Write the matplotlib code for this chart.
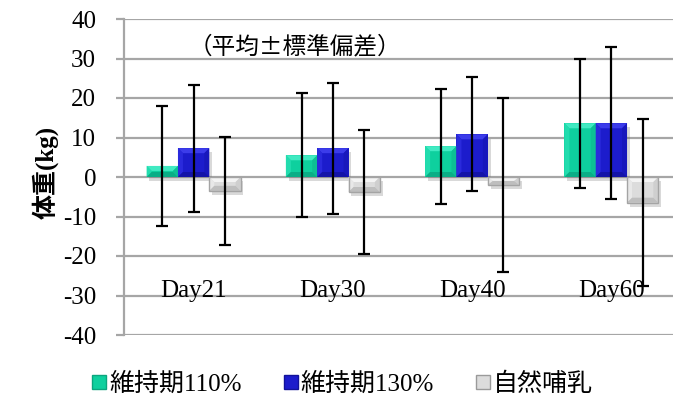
import matplotlib
matplotlib.use("Agg")
import matplotlib.pyplot as plt
import matplotlib.patheffects as pe
from matplotlib.lines import Line2D
from matplotlib.patches import Polygon
import numpy as np

categories = ["Day21", "Day30", "Day40", "Day60"]
series_names = ["維持期110%", "維持期130%", "自然哺乳"]
means_110 = [2.8, 5.5, 7.8, 13.6]
means_130 = [7.3, 7.3, 10.8, 13.6]
means_nat = [-3.5, -3.8, -2.0, -6.5]
sd_110 = [15.2, 15.7, 14.6, 16.4]
sd_130 = [16.1, 16.6, 14.4, 19.2]
sd_nat = [13.6, 15.8, 22.0, 21.1]
yticks = [-40, -30, -20, -10, 0, 10, 20, 30, 40]
note = "（平均±標準偏差）"
ylabel = "体重(kg)"

colors = ["#0ED09E", "#1C1CCC", "#DCDCDC"]
edgecols = ["#0BA57E", "#12129A", "#9A9A9A"]
outline = ["none", "none", "#A4A4A4"]
# bevel facet colours: top, left, right, bottom
facets = [
    ["#40EAC2", "#22DCAE", "#0CC094", "#0AAE86"],
    ["#3C3CEA", "#2A2ADC", "#1818BC", "#1414A8"],
    ["#F4F4F4", "#E8E8E8", "#CFCFCF", "#BEBEBE"],
]

serif_cjk = ["Liberation Serif", "Noto Sans CJK JP"]

fig = plt.figure(figsize=(6.73, 4.01), dpi=100)
ax = fig.add_axes([124/673, 1-335/401, 557/673, (335-19)/401])
ax.set_xlim(-0.5, 3.5)
ax.set_ylim(-40, 40)

x = np.arange(len(categories))
w = 0.225
grid_c = "#A6A6A6"
for v in yticks:
    ax.axhline(v, color=grid_c, lw=1.6, zorder=1)

# data units per pixel, for the bevel inset
px_x = (ax.get_xlim()[1] - ax.get_xlim()[0]) / 557.0
px_y = (ax.get_ylim()[1] - ax.get_ylim()[0]) / 316.0


def bevel(patch, fc):
    x0, y0 = patch.get_x(), patch.get_y()
    bw, bh = patch.get_width(), patch.get_height()
    if bh < 0:
        y0, bh = y0 + bh, -bh
    x1, y1 = x0 + bw, y0 + bh
    dx = min(5 * px_x, bw / 2)
    dy = min(5 * px_y, bh / 2)
    ix0, ix1, iy0, iy1 = x0 + dx, x1 - dx, y0 + dy, y1 - dy
    polys = [
        [(x0, y1), (x1, y1), (ix1, iy1), (ix0, iy1)],  # top
        [(x0, y0), (x0, y1), (ix0, iy1), (ix0, iy0)],  # left
        [(x1, y0), (x1, y1), (ix1, iy1), (ix1, iy0)],  # right
        [(x0, y0), (x1, y0), (ix1, iy0), (ix0, iy0)],  # bottom
    ]
    for p, c in zip(polys, fc):
        ax.add_patch(Polygon(p, closed=True, facecolor=c, edgecolor="none", zorder=3.5))


series = [(means_110, sd_110), (means_130, sd_130), (means_nat, sd_nat)]
for i, (m, s) in enumerate(series):
    pos = x + (i - 1) * w
    bars = ax.bar(pos, m, width=w, color=colors[i], edgecolor="none", zorder=3,
                  path_effects=[pe.SimplePatchShadow(offset=(2, -3), alpha=0.22,
                                                     shadow_rgbFace="#555555"), pe.Normal()])
    for b in bars:
        bevel(b, facets[i])
    if outline[i] != "none":
        ax.bar(pos, m, width=w, fill=False, edgecolor=outline[i], lw=1.0, zorder=3.6)
    ax.errorbar(pos, m, yerr=s, fmt="none", ecolor="black", elinewidth=1.6,
                capsize=4.5, capthick=1.6, zorder=5)

for xi, c in zip(x, categories):
    ax.text(xi, -30.4, c, ha="center", va="baseline", fontsize=18,
            family="Liberation Serif", zorder=4)

ax.text(-0.035, 33, note, ha="left", va="center", fontsize=17,
        family="Noto Sans CJK JP", zorder=6)

ax.set_yticks(yticks)
ax.set_yticklabels([str(v) for v in yticks], fontsize=18, family="Liberation Serif")
ax.tick_params(axis="y", length=6, width=1.6, color=grid_c, pad=14)
ax.set_xticks([])
for sp in ["top", "right", "bottom"]:
    ax.spines[sp].set_visible(False)
ax.spines["left"].set_color(grid_c)
ax.spines["left"].set_linewidth(1.6)

fig.text(45/673, 1-172/401, ylabel, rotation=90, ha="center", va="center",
         fontsize=18, fontweight="bold", family=serif_cjk)

handles = [Line2D([], [], ls="none", marker="s", markersize=10,
                  markerfacecolor=colors[i], markeredgecolor=edgecols[i])
           for i in range(3)]
fig.legend(handles, series_names, loc="center", bbox_to_anchor=(343/673, 1-384/401),
           ncol=3, frameon=False, handlelength=0.5, handletextpad=0.15,
           columnspacing=1.7, prop={"family": serif_cjk, "size": 18})

fig.savefig("out.png", dpi=100)
